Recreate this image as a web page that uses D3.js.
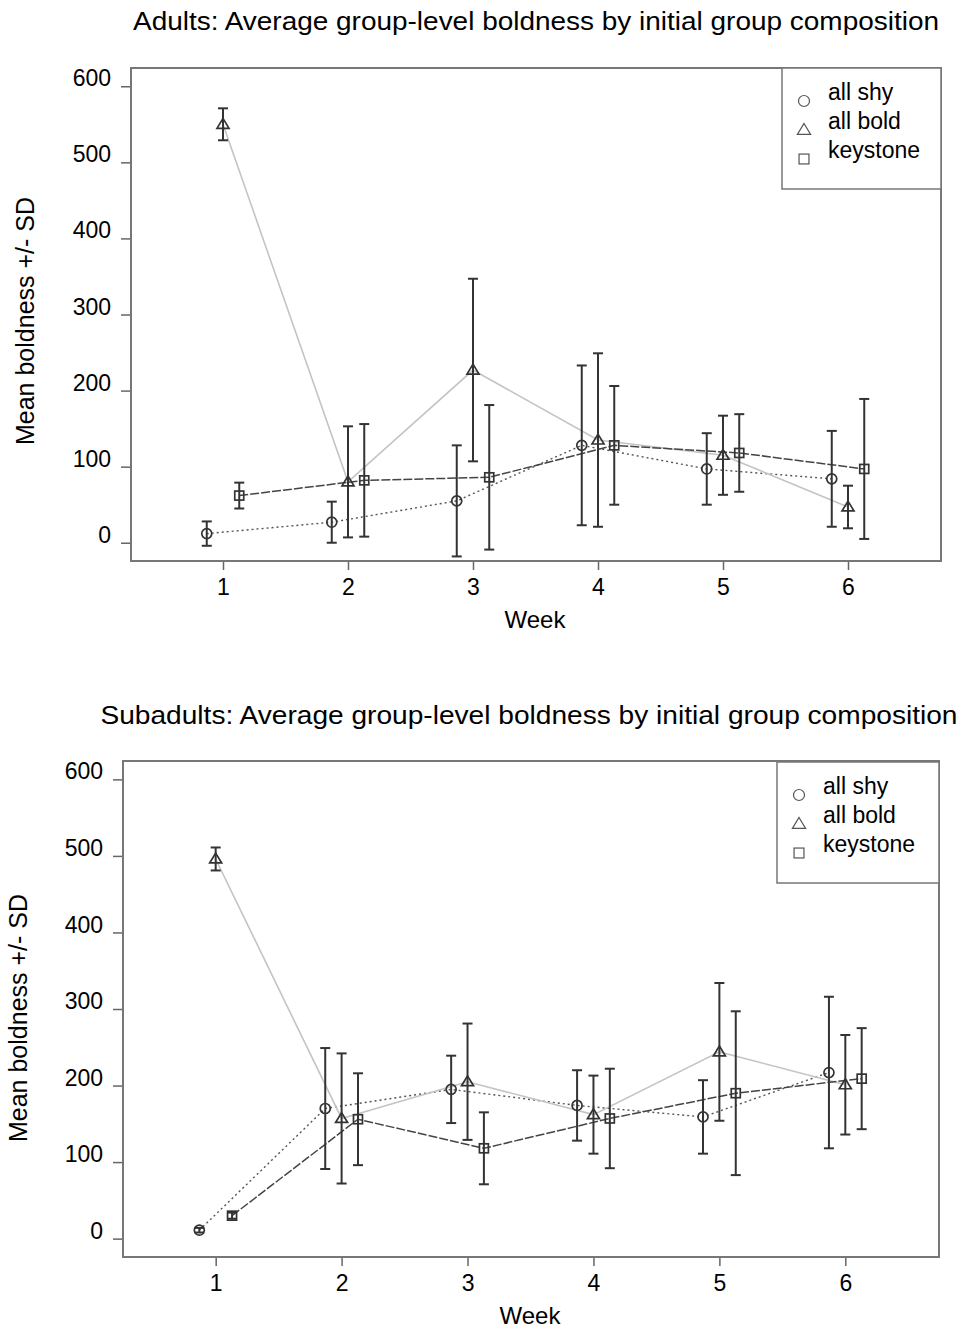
<!DOCTYPE html>
<html>
<head>
<meta charset="utf-8">
<title>Group-level boldness</title>
<script src="https://cdn.jsdelivr.net/npm/d3@7"></script>
<style>
  body { margin: 0; background: #fff; }
  svg text { font-family: "Liberation Sans", Arial, Helvetica, sans-serif; fill: #000; }
</style>
</head>
<body>
<svg id="chart" width="962" height="1329"></svg>
<script>
// week numbers and group names
var weeks = [1, 2, 3, 4, 5, 6];
var groups = ["all shy", "all bold", "keystone"];
var yTicks = [0, 100, 200, 300, 400, 500, 600];

// adults (means and SDs)
var adultShyMean  = [12, 27, 55, 128, 97, 84];
var adultShySD    = [16, 27, 73, 105, 47, 63];
var adultBoldMean = [550, 80, 227, 135, 115, 47];
var adultBoldSD   = [21, 73, 120, 114, 52, 28];
var adultKeyMean  = [62, 82, 86, 128, 118, 97];
var adultKeySD    = [17, 74, 95, 78, 51, 92];

// subadults
var subShyMean  = [11, 170, 195, 174, 159, 217];
var subShySD    = [3, 79, 44, 46, 48, 99];
var subBoldMean = [496, 157, 205, 162, 244, 201];
var subBoldSD   = [15, 85, 76, 51, 90, 65];
var subKeyMean  = [30, 156, 118, 157, 190, 209];
var subKeySD    = [4, 60, 47, 65, 107, 66];

var svg = d3.select("#chart");

// line style per group: dotted / solid light / dashed
var styles = [
  { offset: -0.13, color: "#555", width: 1.4, dash: "2,3", shape: "circle" },
  { offset: 0,     color: "#c4c4c4", width: 1.6, dash: null,  shape: "triangle" },
  { offset: 0.13,  color: "#444", width: 1.5, dash: "9,2", shape: "square" }
];

function marker(g, shape, x, y, size, col, sw) {
  if (shape === "circle") {
    g.append("circle").attr("cx", x).attr("cy", y).attr("r", size * 0.5)
      .attr("fill", "none").attr("stroke", col).attr("stroke-width", sw);
  } else if (shape === "triangle") {
    var h = size * 0.95;
    g.append("path")
      .attr("d", "M" + x + "," + (y - h * 0.62) + "L" + (x + size * 0.6) + "," + (y + h * 0.42) +
        "L" + (x - size * 0.6) + "," + (y + h * 0.42) + "Z")
      .attr("fill", "none").attr("stroke", col).attr("stroke-width", sw);
  } else {
    g.append("rect").attr("x", x - size * 0.45).attr("y", y - size * 0.45)
      .attr("width", size * 0.9).attr("height", size * 0.9)
      .attr("fill", "none").attr("stroke", col).attr("stroke-width", sw);
  }
}

function drawPanel(p) {
  var g = svg.append("g");
  var x = d3.scaleLinear().domain([0.264, 6.744]).range([p.left, p.right]);
  var y = d3.scaleLinear().domain([-24, 624]).range([p.bottom, p.top]);

  // title
  g.append("text").attr("x", p.titleX).attr("y", p.titleY)
    .attr("text-anchor", "middle").style("font-size", "25px")
    .attr("textLength", p.titleW).attr("lengthAdjust", "spacingAndGlyphs")
    .text(p.title);

  // y axis
  var ya = g.append("g").attr("transform", "translate(" + p.left + ",0)")
    .call(d3.axisLeft(y).tickValues(yTicks).tickSize(10).tickPadding(10));
  ya.select(".domain").remove();
  ya.selectAll(".tick line").attr("stroke", "#666").attr("stroke-width", 1.5);
  ya.selectAll(".tick text").attr("dy", "-0.02em")
    .style("font-size", "23px").attr("fill", "#000");

  // x axis
  var xa = g.append("g").attr("transform", "translate(0," + p.bottom + ")")
    .call(d3.axisBottom(x).tickValues(weeks).tickFormat(d3.format("d"))
      .tickSize(9).tickPadding(9));
  xa.select(".domain").remove();
  xa.selectAll(".tick line").attr("stroke", "#666").attr("stroke-width", 1.5);
  xa.selectAll(".tick text").style("font-size", "23px").attr("fill", "#000");

  // axis titles
  g.append("text").attr("x", (p.left + p.right) / 2 - 1).attr("y", p.bottom + 67)
    .attr("text-anchor", "middle").style("font-size", "24px").text("Week");
  g.append("text")
    .attr("transform", "translate(" + p.ylabX + "," + p.ylabY + ") rotate(-90)")
    .attr("text-anchor", "middle").style("font-size", "25px")
    .text("Mean boldness +/- SD");

  var lines = g.append("g");
  var bars = g.append("g");
  var marks = g.append("g");

  p.series.forEach(function (s, i) {
    var st = styles[i];
    var pts = weeks.map(function (w, j) {
      return { x: x(w + st.offset), m: s.mean[j], sd: s.sd[j] };
    });
    var line = d3.line().x(function (d) { return d.x; }).y(function (d) { return y(d.m); });
    lines.append("path").attr("d", line(pts))
      .attr("fill", "none").attr("stroke", st.color)
      .attr("stroke-width", st.width).attr("stroke-dasharray", st.dash);

    pts.forEach(function (d) {
      var y0 = y(d.m - d.sd), y1 = y(d.m + d.sd);
      bars.append("line").attr("x1", d.x).attr("x2", d.x).attr("y1", y0).attr("y2", y1)
        .attr("stroke", "#333").attr("stroke-width", 2);
      [y0, y1].forEach(function (yy) {
        bars.append("line").attr("x1", d.x - 5).attr("x2", d.x + 5).attr("y1", yy).attr("y2", yy)
          .attr("stroke", "#333").attr("stroke-width", 2);
      });
      marker(marks, st.shape, d.x, y(d.m), 10, "#333", 1.7);
    });
  });

  // frame
  g.append("rect").attr("x", p.left).attr("y", p.top)
    .attr("width", p.right - p.left).attr("height", p.bottom - p.top)
    .attr("fill", "none").attr("stroke", "#777").attr("stroke-width", 2);

  // legend
  var lg = g.append("g").attr("transform", "translate(" + p.legX + "," + p.legY + ")");
  lg.append("rect").attr("x", 0).attr("y", 0).attr("width", p.right - p.legX).attr("height", 121)
    .attr("fill", "#fff").attr("stroke", "#777").attr("stroke-width", 1.5);
  groups.forEach(function (name, i) {
    marker(lg, styles[i].shape, 22, 33 + i * 29, 11, "#555", 1.2);
    lg.append("text").attr("x", 46).attr("y", 24 + i * 29).attr("dy", "0.35em")
      .style("font-size", "23px").text(name);
  });
}

drawPanel({
  title: "Adults: Average group-level boldness by initial group composition",
  titleX: 536, titleY: 30, titleW: 806,
  left: 131, right: 941, top: 68, bottom: 561,
  ylabX: 34, ylabY: 321,
  legX: 782, legY: 68,
  series: [
    { mean: adultShyMean, sd: adultShySD },
    { mean: adultBoldMean, sd: adultBoldSD },
    { mean: adultKeyMean, sd: adultKeySD }
  ]
});

drawPanel({
  title: "Subadults: Average group-level boldness by initial group composition",
  titleX: 529, titleY: 724, titleW: 857,
  left: 123, right: 939, top: 761, bottom: 1257,
  ylabX: 27, ylabY: 1018,
  legX: 777, legY: 762,
  series: [
    { mean: subShyMean, sd: subShySD },
    { mean: subBoldMean, sd: subBoldSD },
    { mean: subKeyMean, sd: subKeySD }
  ]
});
</script>
</body>
</html>
